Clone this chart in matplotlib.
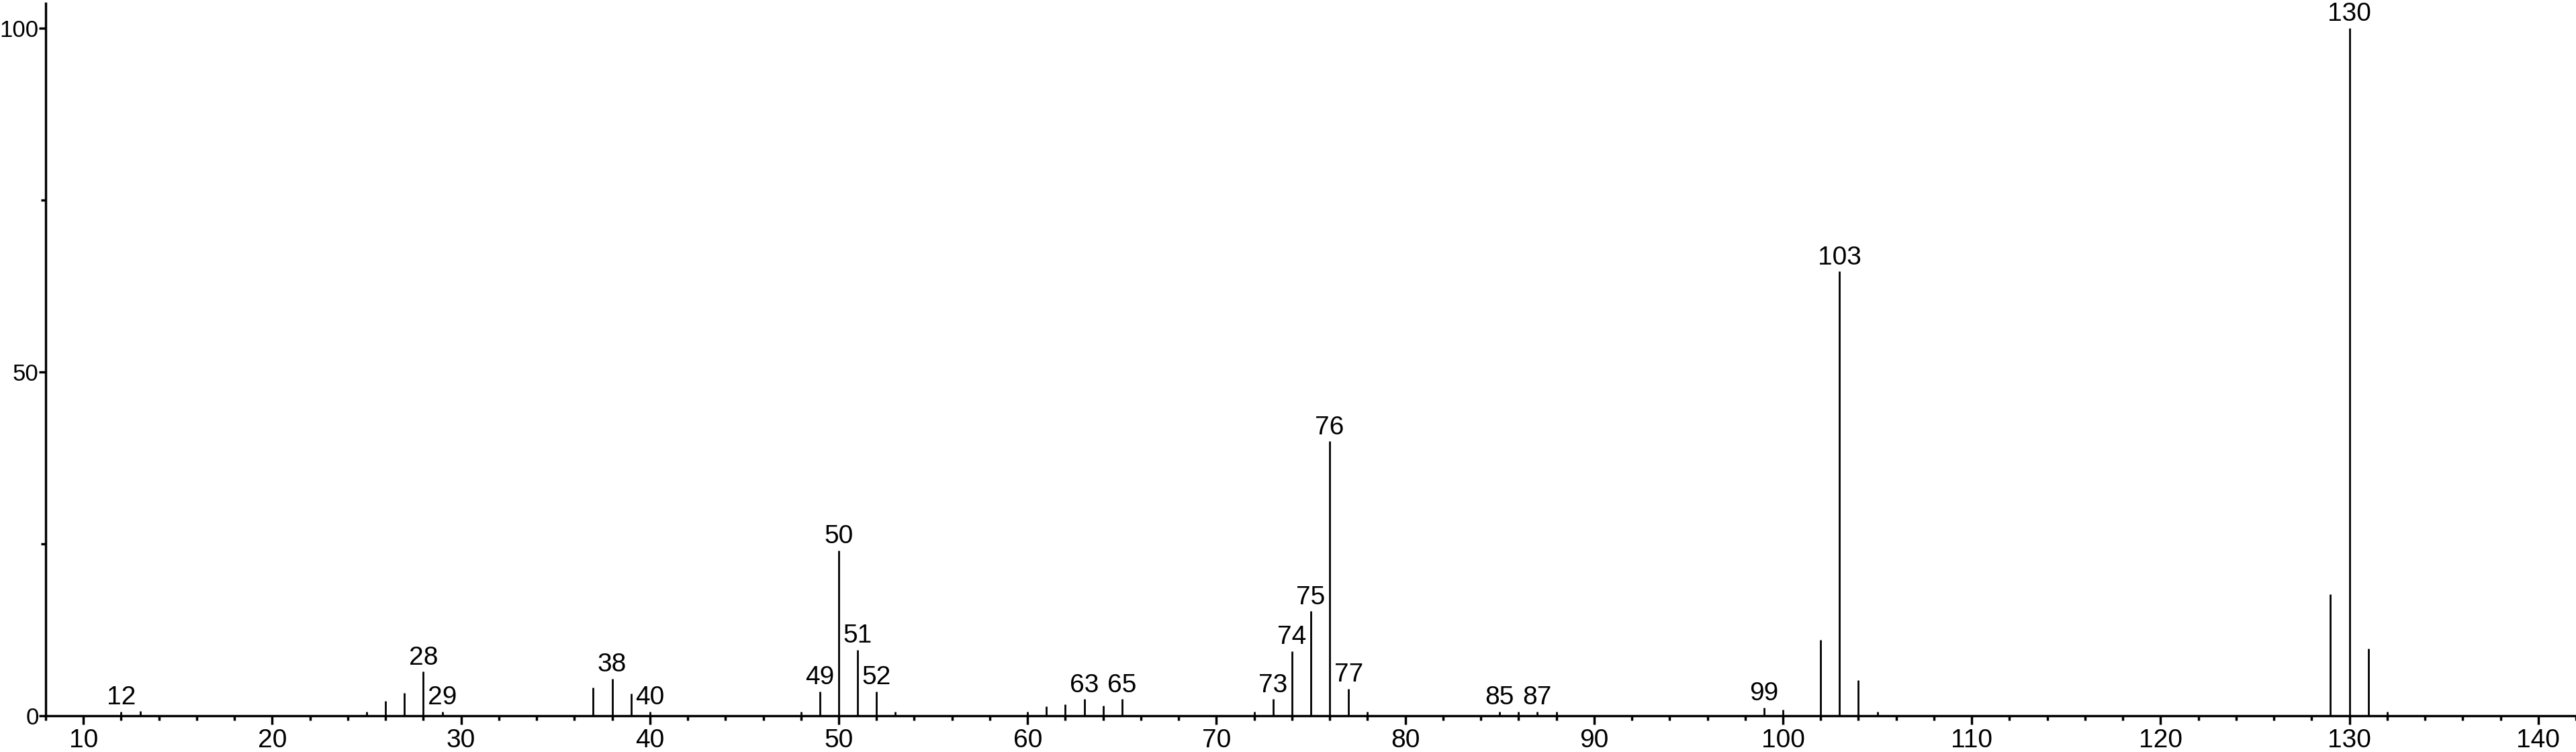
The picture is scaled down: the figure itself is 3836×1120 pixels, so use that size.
import matplotlib
matplotlib.use("Agg")
import matplotlib.pyplot as plt
from matplotlib.ticker import MultipleLocator

plt.rcParams['font.family'] = ['Liberation Sans Narrow', 'Liberation Sans', 'DejaVu Sans']

# m/z values and relative intensities
mz = [12, 13, 25, 26, 27, 28, 29, 37, 38, 39, 40, 48, 49, 50, 51, 52, 53,
      60, 61, 62, 63, 64, 65, 72, 73, 74, 75, 76, 77, 78, 85, 86, 87, 88,
      99, 100, 102, 103, 104, 105, 129, 130, 131, 132]
intensity = [0.6, 0.65, 0.6, 2.1, 3.3, 6.4, 0.6, 4.1, 5.4, 3.2, 0.6, 0.6, 3.5, 24.0, 9.6, 3.5, 0.6,
             0.6, 1.4, 1.7, 2.4, 1.5, 2.4, 0.6, 2.4, 9.4, 15.2, 39.9, 3.9, 0.6, 0.6, 0.6, 0.6, 0.6,
             1.2, 0.9, 11.0, 64.6, 5.2, 0.6, 17.7, 100.0, 9.8, 0.6]
labeled = [12, 28, 29, 38, 40, 49, 50, 51, 52, 63, 65, 73, 74, 75, 76, 77, 85, 87, 99, 103, 130]

W, H = 3836, 1120
fig = plt.figure(figsize=(W / 100, H / 100), dpi=100)
ax = fig.add_axes([68 / W, 54 / H, (W - 68) / W, 1061 / H])

ax.vlines(mz, 0, intensity, colors='black', linewidth=2.0)
for m, v in zip(mz, intensity):
    if m in labeled:
        ax.annotate(str(m), (m, v), xytext=(0, 2), textcoords='offset points',
                    ha='center', va='bottom', fontsize=28, clip_on=False)

ax.set_xlim(8, 142)
ax.set_ylim(0, 103.6)
ax.xaxis.set_major_locator(MultipleLocator(10))
ax.xaxis.set_minor_locator(MultipleLocator(2))
ax.yaxis.set_major_locator(MultipleLocator(50))
ax.yaxis.set_minor_locator(MultipleLocator(25))

for s in ['top', 'right']:
    ax.spines[s].set_visible(False)
for s in ['left', 'bottom']:
    ax.spines[s].set_linewidth(2.5)

ax.tick_params(axis='x', which='major', direction='out', length=9, width=2.5, labelsize=28, pad=5)
ax.tick_params(axis='x', which='minor', direction='out', length=5, width=2.5)
ax.tick_params(axis='y', which='major', direction='out', length=7, width=2.5, labelsize=25, pad=0.5)
ax.tick_params(axis='y', which='minor', direction='out', length=5, width=2.5)

fig.savefig('out.png', dpi=100, facecolor='white')
